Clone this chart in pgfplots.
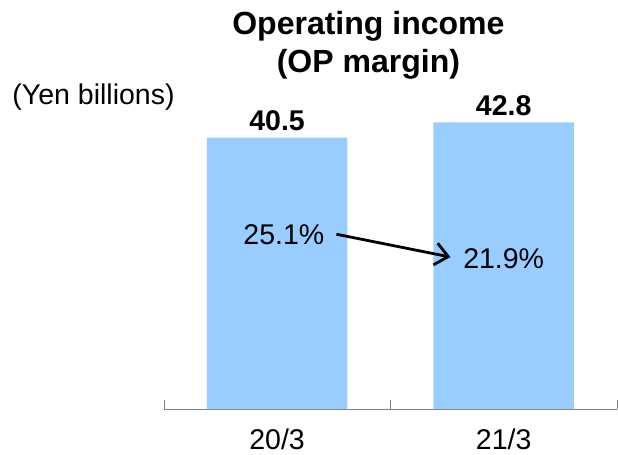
\documentclass[border=0pt]{standalone}
\usepackage{pgfplots}
\pgfplotsset{compat=1.18}
\usetikzlibrary{arrows.meta}
\usepackage{fontspec}
\setmainfont{Liberation Sans}
\definecolor{barblue}{HTML}{99CCFF}
\definecolor{axisgray}{HTML}{808080}

\begin{document}
\begin{tikzpicture}
\fontsize{28.5pt}{32pt}\selectfont
\begin{axis}[
    scale only axis,
    width=453pt, height=409pt,
    xmin=-0.5, xmax=1.5,
    ymin=0, ymax=61.04,
    axis x line=bottom,
    axis y line=none,
    x axis line style={-, draw=axisgray},
    xtick={0,1},
    xticklabels={20/3,21/3},
    major tick length=0pt,
    extra x ticks={-0.5,0.5,1.5},
    extra x tick labels={},
    extra x tick style={major tick length=9pt, tick align=inside, tick style={draw=axisgray}},
    xticklabel style={font=\fontsize{28.5pt}{32pt}\selectfont, yshift=-10pt},
    clip=false,
]
    % frame of the whole picture, used as bounding box below
    \coordinate (bbll) at (axis cs:-1.2225,-6.716);
    \coordinate (bbur) at (axis cs:1.5044,61.04);
    \addplot[ybar, bar width=0.62, fill=barblue, draw=none,
        nodes near coords={\pgfmathprintnumber[fixed,fixed zerofill,precision=1,assume math mode=true]{\pgfplotspointmeta}},
        every node near coord/.append style={font=\fontsize{28.5pt}{32pt}\selectfont\bfseries, yshift=-3pt}]
        coordinates {(0,40.5) (1,42.8)};
    \node[font=\fontsize{28.5pt}{32pt}\selectfont] at (axis cs:0.03,26.0) {25.1\%};
    \node[font=\fontsize{28.5pt}{32pt}\selectfont] at (axis cs:1.0,22.5) {21.9\%};
    \draw[-{Straight Barb[length=13pt,width=22pt,line width=2.8pt]}, line width=2.8pt]
        (axis cs:0.262,26.1) -- (axis cs:0.765,22.7);
    \node[font=\fontsize{32pt}{38pt}\selectfont\bfseries, align=center] at (axis cs:0.403,54.3)
        {Operating income\\(OP margin)};
    \node[font=\fontsize{28.5pt}{32pt}\selectfont] at (axis cs:-0.81,46.6) {(Yen billions)};
\end{axis}
\pgfresetboundingbox
\path[use as bounding box] (bbll) rectangle (bbur);
\end{tikzpicture}
\end{document}
